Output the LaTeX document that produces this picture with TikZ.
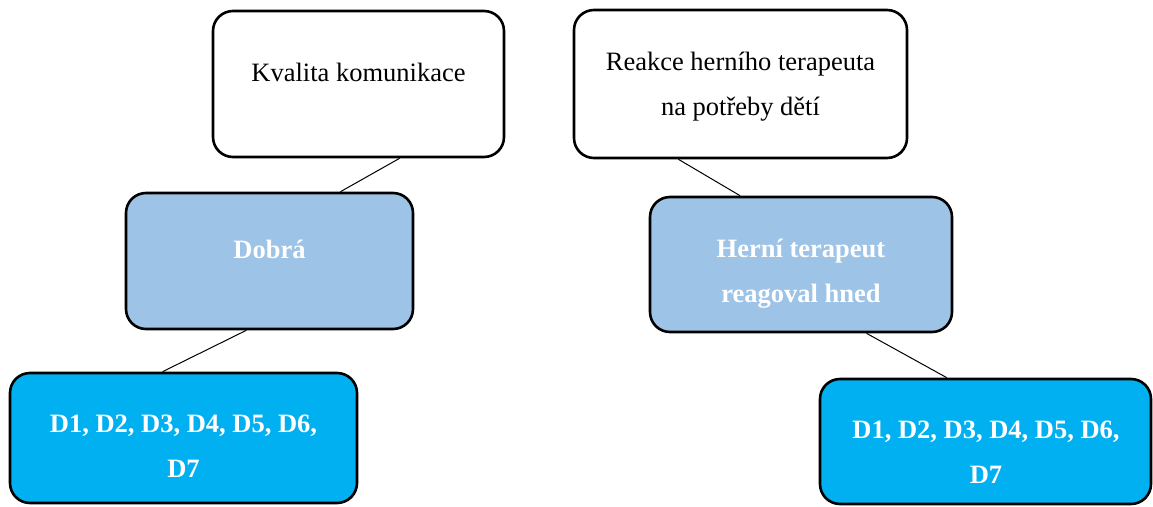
\documentclass[tikz,border=0pt]{standalone}
\usepackage{fontspec}
\setmainfont{Liberation Serif}
\usetikzlibrary{calc}
\definecolor{midblue}{HTML}{9DC3E6}
\definecolor{cyanblue}{HTML}{00B0F0}
\begin{document}
\begin{tikzpicture}[x=1pt,y=-1pt,
 box/.style={draw=black, line width=2.6pt, rounded corners=20pt, inner sep=0pt},
 plainbox/.style={box, fill=white},
 midbox/.style={box, fill=midblue},
 leafbox/.style={box, fill=cyanblue},
 txt/.style={font=\fontsize{26.5}{45}\selectfont, align=center, inner sep=0pt, anchor=base},
 wtxt/.style={txt, text=white, font=\fontsize{26.5}{45}\selectfont\bfseries},
 link/.style={line width=1pt}]
\useasboundingbox (0,0) rectangle (1153,506);
% boxes
\node[plainbox, minimum width=291pt, minimum height=146pt] (A) at (358.5,84) {};
\node[midbox,   minimum width=287pt, minimum height=136pt] (B) at (269.5,261) {};
\node[leafbox,  minimum width=347pt, minimum height=130pt] (C) at (183.5,438) {};
\node[plainbox, minimum width=333pt, minimum height=148pt] (D) at (740.5,84) {};
\node[midbox,   minimum width=302pt, minimum height=135pt] (E) at (801,264.5) {};
\node[leafbox,  minimum width=331pt, minimum height=125pt] (F) at (985.5,441.5) {};
% texts (base anchor = baseline of the last line)
\node[txt]  (At) at (358.5,81) {Kvalita komunikace};
\node[wtxt] (Bt) at (269.5,258) {Dobrá};
\node[wtxt] (Ct) at (183.5,477) {D1, D2, D3, D4, D5, D6,\\D7};
\node[txt]  (Dt) at (740.5,115) {Reakce herního terapeuta\\na potřeby dětí};
\node[wtxt] (Et) at (801,302) {Herní terapeut\\reagoval hned};
\node[wtxt] (Ft) at (986,483) {D1, D2, D3, D4, D5, D6,\\D7};
% connectors
\draw[link] ($(A.south west)!0.64!(A.south east)$) -- ($(B.north west)!0.745!(B.north east)$);
\draw[link] ($(B.south west)!0.42!(B.south east)$) -- ($(C.north west)!0.44!(C.north east)$);
\draw[link] ($(D.south west)!0.315!(D.south east)$) -- ($(E.north west)!0.30!(E.north east)$);
\draw[link] ($(E.south west)!0.715!(E.south east)$) -- ($(F.north west)!0.384!(F.north east)$);
\end{tikzpicture}
\end{document}
